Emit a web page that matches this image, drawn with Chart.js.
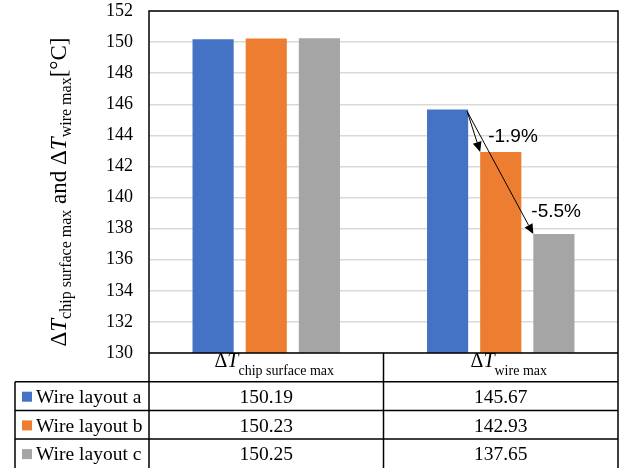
<!DOCTYPE html>
<html>
<head>
<meta charset="utf-8">
<script src="https://cdn.jsdelivr.net/npm/chart.js@4.4.0/dist/chart.umd.min.js"></script>
<style>
  html, body { margin: 0; padding: 0; background: #fff; }
  #wrap { width: 625px; height: 468px; position: relative; }
</style>
</head>
<body>
<div id="wrap"><canvas id="tempChart"></canvas></div>
<script>
'use strict';

// Data
let categories = ['chip surface max', 'wire max'];
let seriesNames = ['Wire layout a', 'Wire layout b', 'Wire layout c'];
let layoutA = [150.19, 145.67];
let layoutB = [150.23, 142.93];
let layoutC = [150.25, 137.65];
let yMin = 130;
let yMax = 152;
let yStep = 2;

let seriesColors = ['#4472C4', '#ED7D31', '#A5A5A5'];
let serif = "'Liberation Serif', 'Times New Roman', serif";
let sans = "'Liberation Sans', Arial, sans-serif";

// draws a run of text pieces (each with its own font and baseline shift) left to right
function drawRuns(ctx, runs, x, y) {
  let cx = x;
  for (let r of runs) {
    ctx.font = r.font;
    ctx.fillText(r.text, cx, y + (r.dy || 0));
    cx += ctx.measureText(r.text).width;
  }
}

function runsWidth(ctx, runs) {
  let w = 0;
  for (let r of runs) {
    ctx.font = r.font;
    w += ctx.measureText(r.text).width;
  }
  return w;
}

function deltaT(sub, big, small, shift) {
  return [
    { text: '\u0394', font: big + 'px ' + serif },
    { text: 'T', font: 'italic ' + big + 'px ' + serif },
    { text: sub, font: small + 'px ' + serif, dy: shift }
  ];
}

function arrow(ctx, x1, y1, x2, y2) {
  let ang = Math.atan2(y2 - y1, x2 - x1);
  let len = 10, half = 4.5;
  let bx = x2 - len * Math.cos(ang);
  let by = y2 - len * Math.sin(ang);
  ctx.beginPath();
  ctx.moveTo(x1, y1);
  ctx.lineTo(bx, by);
  ctx.stroke();
  ctx.beginPath();
  ctx.moveTo(x2, y2);
  ctx.lineTo(bx + half * Math.sin(ang), by - half * Math.cos(ang));
  ctx.lineTo(bx - half * Math.sin(ang), by + half * Math.cos(ang));
  ctx.closePath();
  ctx.fill();
}

// Frame, y title, arrows and the data table under the plot
const extras = {
  id: 'extras',
  afterDraw(chart) {
    const ctx = chart.ctx;
    const area = chart.chartArea;
    ctx.save();

    // y-axis title
    let title = []
      .concat(deltaT('chip surface max', 23, 16, 5))
      .concat([{ text: ' and ', font: '23px ' + serif }])
      .concat(deltaT('wire max', 23, 16, 5))
      .concat([{ text: '[\u00B0C]', font: '23px ' + serif }]);
    ctx.fillStyle = '#000';
    ctx.textAlign = 'left';
    ctx.textBaseline = 'alphabetic';
    ctx.save();
    ctx.translate(66, 192);
    ctx.rotate(-Math.PI / 2);
    drawRuns(ctx, title, -runsWidth(ctx, title) / 2, 0);
    ctx.restore();

    // arrows from layout a to b and c on the second category
    let base = chart.getDatasetMeta(0).data[1];
    let sx = base.x + base.width / 2 - 1;
    let sy = base.y + 2;
    ctx.strokeStyle = '#000';
    ctx.fillStyle = '#000';
    ctx.lineWidth = 1;
    ctx.font = '19px ' + sans;
    let labelOffsets = [null, [8, -10], [-2, -17]];
    for (let d = 1; d < 3; d++) {
      let bar = chart.getDatasetMeta(d).data[1];
      let tx = bar.x - bar.width / 2;
      arrow(ctx, sx, sy, tx, bar.y);
      let vals = chart.data.datasets[d].data;
      let pct = (vals[1] - layoutA[1]) / layoutA[1] * 100;
      ctx.fillText(pct.toFixed(1) + '%', tx + labelOffsets[d][0], bar.y + labelOffsets[d][1]);
    }

    // data table
    let rowH = 28.7;
    let left = 15;
    let right = area.right;
    let mid = (area.left + area.right) / 2;
    let top = area.bottom;
    let bottom = chart.height;
    ctx.strokeStyle = '#000';
    ctx.lineWidth = 1.5;
    ctx.beginPath();
    // plot frame
    ctx.moveTo(area.left, bottom);
    ctx.lineTo(area.left, area.top);
    ctx.lineTo(right, area.top);
    ctx.lineTo(right, bottom);
    // table rules
    ctx.moveTo(area.left, top);
    ctx.lineTo(right, top);
    for (let r = 1; r <= 3; r++) {
      ctx.moveTo(left, top + r * rowH);
      ctx.lineTo(right, top + r * rowH);
    }
    ctx.moveTo(left, top + rowH);
    ctx.lineTo(left, bottom);
    ctx.moveTo(mid, top);
    ctx.lineTo(mid, bottom);
    ctx.stroke();

    let colCenters = [(area.left + mid) / 2, (mid + right) / 2];
    ctx.fillStyle = '#000';
    for (let c = 0; c < categories.length; c++) {
      let head = deltaT(categories[c], 20, 14, 8);
      let w = runsWidth(ctx, head);
      drawRuns(ctx, head, colCenters[c] + 8 - w / 2, top + 14);
    }
    ctx.textAlign = 'center';
    ctx.font = '19.5px ' + serif;
    chart.data.datasets.forEach((ds, i) => {
      let y = top + (i + 1) * rowH + rowH / 2 + 7;
      ds.data.forEach((v, c) => {
        ctx.fillText(v.toFixed(2), colCenters[c], y);
      });
      ctx.fillStyle = ds.backgroundColor;
      ctx.fillRect(22, top + (i + 1) * rowH + 10, 10, 10);
      ctx.fillStyle = '#000';
      ctx.textAlign = 'left';
      ctx.fillText(ds.label, 36, y);
      ctx.textAlign = 'center';
    });

    ctx.restore();
  }
};

const ctx = document.getElementById('tempChart');
new Chart(ctx, {
  type: 'bar',
  data: {
    labels: categories,
    datasets: [
      { label: seriesNames[0], data: layoutA, backgroundColor: seriesColors[0] },
      { label: seriesNames[1], data: layoutB, backgroundColor: seriesColors[1] },
      { label: seriesNames[2], data: layoutC, backgroundColor: seriesColors[2] }
    ]
  },
  options: {
    responsive: true,
    maintainAspectRatio: false,
    animation: false,
    layout: { padding: { left: 0, top: 11, right: 7, bottom: 115 } },
    datasets: { bar: { categoryPercentage: 0.68, barPercentage: 0.774 } },
    plugins: {
      legend: { display: false },
      tooltip: { enabled: false }
    },
    scales: {
      x: { display: false },
      y: {
        min: yMin,
        max: yMax,
        afterFit(scale) {
          scale.width = 149;
          scale.paddingTop = 0;
          scale.paddingBottom = 0;
        },
        ticks: {
          stepSize: yStep,
          padding: 16,
          color: '#000',
          font: { family: serif, size: 18 }
        },
        grid: { color: '#d9d9d9', lineWidth: 1.5, drawTicks: false },
        border: { display: false }
      }
    }
  },
  plugins: [extras]
});
</script>
</body>
</html>
